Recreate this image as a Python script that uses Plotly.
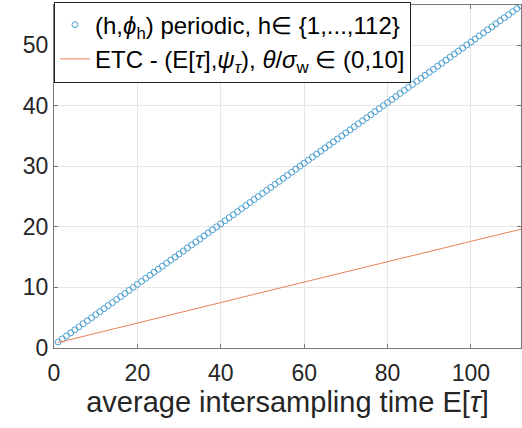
import plotly.graph_objects as go

# periodic sampling: h and phi_h
h_vals = list(range(1, 113))
phi_h = [1.0, 1.5, 2.0, 2.5, 3.0, 3.5, 4.0, 4.5, 5.0, 5.5, 6.0, 6.5, 7.0, 7.5, 8.0, 8.5,
         9.0, 9.5, 10.0, 10.5, 11.0, 11.5, 12.0, 12.5, 13.0, 13.5, 14.0, 14.5, 15.0, 15.5,
         16.0, 16.5, 17.0, 17.5, 18.0, 18.5, 19.0, 19.5, 20.0, 20.5, 21.0, 21.5, 22.0, 22.5,
         23.0, 23.5, 24.0, 24.5, 25.0, 25.5, 26.0, 26.5, 27.0, 27.5, 28.0, 28.5, 29.0, 29.5,
         30.0, 30.5, 31.0, 31.5, 32.0, 32.5, 33.0, 33.5, 34.0, 34.5, 35.0, 35.5, 36.0, 36.5,
         37.0, 37.5, 38.0, 38.5, 39.0, 39.5, 40.0, 40.5, 41.0, 41.5, 42.0, 42.5, 43.0, 43.5,
         44.0, 44.5, 45.0, 45.5, 46.0, 46.5, 47.0, 47.5, 48.0, 48.5, 49.0, 49.5, 50.0, 50.5,
         51.0, 51.5, 52.0, 52.5, 53.0, 53.5, 54.0, 54.5, 55.0, 55.5, 56.0, 56.5]

# ETC curve: E[tau] and psi_tau
etc_Etau = [1, 10, 20, 30, 40, 50, 60, 70, 80, 90, 100, 112]
etc_psi = [0.9, 2.45, 4.1, 5.8, 7.5, 9.2, 10.9, 12.55, 14.2, 15.9, 17.6, 19.6]

x_ticks = [0, 20, 40, 60, 80, 100]
y_ticks = [0, 10, 20, 30, 40, 50]

FONT = "Liberation Sans, Arial, sans-serif"
TXT = "#262626"

fig = go.Figure()
fig.add_trace(go.Scatter(
    x=h_vals, y=phi_h, mode="markers",
    name="(h,<i>ϕ</i><sub>h</sub>) periodic, h∈ {1,...,112}",
    marker=dict(symbol="circle-open", size=6, color="#4a9fd0", line=dict(width=1)),
))
fig.add_trace(go.Scatter(
    x=etc_Etau, y=etc_psi, mode="lines",
    name="ETC - (E[<i>τ</i>],<i>ψ</i><sub><i>τ</i></sub>), <i>θ</i>/<i>σ</i><sub>w</sub> ∈ (0,10]",
    line=dict(color="#E8825A", width=1),
))

fig.update_layout(
    width=522, height=428,
    margin=dict(l=54, r=1, t=5, b=80),
    paper_bgcolor="white", plot_bgcolor="white",
    font=dict(family=FONT, size=22, color=TXT),
    showlegend=True,
    legend=dict(
        x=0.0, y=1.01, xanchor="left", yanchor="top",
        bgcolor="white", bordercolor="#222", borderwidth=1,
        font=dict(family=FONT, size=24, color="black"),
        tracegroupgap=0, itemwidth=30,
    ),
    xaxis=dict(
        range=[0, 112], tickvals=x_ticks, ticktext=[str(v) for v in x_ticks],
        showgrid=True, gridcolor="#e6e6e6", gridwidth=1,
        showline=True, linecolor="#777", linewidth=1, mirror="ticks",
        ticks="inside", ticklen=4, tickcolor="#777",
        zeroline=False, ticklabelstandoff=4,
        title=dict(text="average intersampling time E[<i>τ</i>]", standoff=7,
                   font=dict(size=29, color=TXT)),
        tickfont=dict(size=23, color=TXT),
    ),
    yaxis=dict(
        range=[0, 56.6], tickvals=y_ticks, ticktext=[str(v) for v in y_ticks],
        showgrid=True, gridcolor="#e6e6e6", gridwidth=1,
        showline=True, linecolor="#777", linewidth=1, mirror="ticks",
        ticks="inside", ticklen=4, tickcolor="#777",
        zeroline=False,
        tickfont=dict(size=23, color=TXT),
    ),
)

fig.write_html("out.html")
